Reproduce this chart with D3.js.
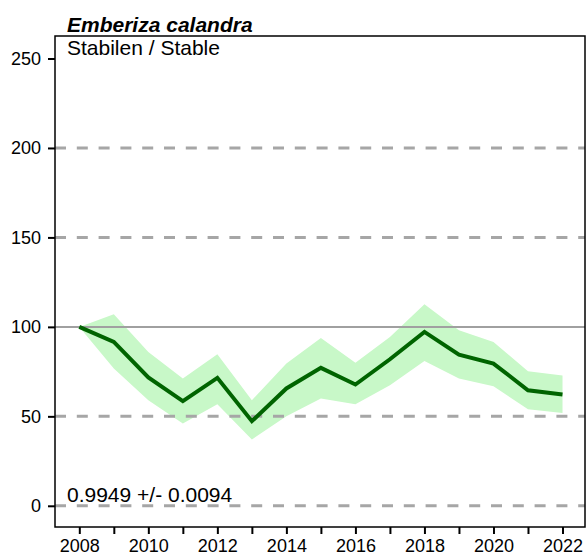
<!DOCTYPE html>
<html><head><meta charset="utf-8">
<script src="https://cdn.jsdelivr.net/npm/d3@7"></script>
<style>body{margin:0;background:#fff}svg{display:block}text{font-family:"Liberation Sans",Arial,sans-serif}</style>
</head><body>
<script>
const years = [2008,2009,2010,2011,2012,2013,2014,2015,2016,2017,2018,2019,2020,2021,2022];
const index = [100,91.6,71.7,58.5,71.5,47.3,65.6,77.1,67.8,81.9,97.2,84.5,79.5,64.6,62.2];
const upper = [100,107,86,71.1,84.7,59,79.5,93.8,79.9,94.4,112.6,98.1,91.6,75.2,72.8];
const lower = [100,76.7,59,46,56.8,37.1,50.1,60,56.8,67.4,81,71.1,66.8,54,51.9];
const yTicks = [0,50,100,150,200,250];
const dashedLines = [0,50,150,200];
const solidLines = [100];
const xLabels = [2008,2010,2012,2014,2016,2018,2020,2022];
const title = "Emberiza calandra";
const subtitle = "Stabilen / Stable";
const trendText = "0.9949 +/- 0.0094";

const W=587,H=559;
const L=55,T=36,R=585,B=527;
const svg=d3.select("body").append("svg").attr("width",W).attr("height",H);
const x=d3.scaleLinear().domain([2008,2022]).range([79.3,562.5]);
const y=d3.scaleLinear().domain([0,250]).range([505.8,58.5]);

const band=years.map((d,i)=>({yr:d,lo:lower[i],hi:upper[i]}));
svg.append("path").datum(band)
 .attr("d",d3.area().x(d=>x(d.yr)).y0(d=>y(d.lo)).y1(d=>y(d.hi)))
 .attr("fill","#c8f8c8");

svg.selectAll(".dl").data(dashedLines).join("line")
 .attr("x1",L).attr("x2",R).attr("y1",d=>y(d)).attr("y2",d=>y(d))
 .attr("stroke","#a6a6a6").attr("stroke-width",3).attr("stroke-dasharray","11,10.8")
 .attr("stroke-dashoffset",0);
svg.selectAll(".sl").data(solidLines).join("line")
 .attr("x1",L).attr("x2",R).attr("y1",d=>y(d)).attr("y2",d=>y(d))
 .attr("stroke","#a0a0a0").attr("stroke-width",2);

svg.append("path").datum(years.map((d,i)=>[d,index[i]]))
 .attr("d",d3.line().x(d=>x(d[0])).y(d=>y(d[1])))
 .attr("fill","none").attr("stroke","#006400").attr("stroke-width",4).attr("stroke-linejoin","miter");

svg.append("rect").attr("x",L).attr("y",T).attr("width",R-L).attr("height",B-T)
 .attr("fill","none").attr("stroke","#000").attr("stroke-width",1.5);

const yAxis=d3.axisLeft(y).tickValues(yTicks).tickSize(7).tickPadding(7).tickFormat(d3.format("d"));
const ga=svg.append("g").attr("transform",`translate(${L},0)`).call(yAxis);
ga.select(".domain").remove();
ga.selectAll("line").attr("stroke-width",2);
ga.selectAll("text").attr("font-size",18).attr("fill","#000").style("font-family","'Liberation Sans',Arial,sans-serif");

const xAxis=d3.axisBottom(x).tickValues(years).tickSize(7).tickPadding(5)
 .tickFormat(d=>xLabels.includes(d)?String(d):"");
const gx=svg.append("g").attr("transform",`translate(0,${B})`).call(xAxis);
gx.select(".domain").remove();
gx.selectAll("line").attr("stroke-width",2);
gx.selectAll("text").attr("font-size",18).attr("fill","#000").style("font-family","'Liberation Sans',Arial,sans-serif");

svg.append("text").attr("x",67).attr("y",31.5).text(title)
 .attr("font-size",21).attr("font-weight","bold").attr("font-style","italic");
svg.append("text").attr("x",67).attr("y",55).text(subtitle).attr("font-size",21);
svg.append("text").attr("x",67).attr("y",502).text(trendText).attr("font-size",21);
</script>
</body></html>
